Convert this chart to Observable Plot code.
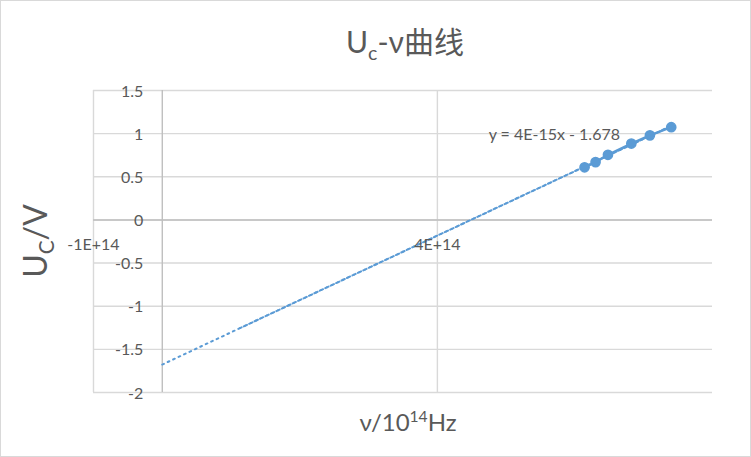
<!DOCTYPE html>
<html>
<head>
<meta charset="utf-8">
<script src="https://cdn.jsdelivr.net/npm/d3@7"></script>
<script src="https://cdn.jsdelivr.net/npm/@observablehq/plot@0.6"></script>
<style>
  html, body { margin: 0; padding: 0; background: #fff; }
  #wrap { position: relative; width: 751px; height: 457px; overflow: hidden; }
  #wrap svg { display: block; }
  #border { position: absolute; left: 0; top: 0; width: 749px; height: 455px; border: 1px solid #d9d9d9; pointer-events: none; }
</style>
</head>
<body>
<div id="wrap"><div id="border"></div></div>
<script>
// ---- data ----
const nu = [6.14e14, 6.30e14, 6.48e14, 6.82e14, 7.09e14, 7.40e14];   // frequency (Hz)
const uc = [0.61, 0.67, 0.755, 0.885, 0.98, 1.075];                   // stopping voltage (V)
const yTicks = [-2, -1.5, -1, -0.5, 0, 0.5, 1, 1.5];
const xTicks = [-1e14, 4e14];
const xDomain = [-1e14, 8e14];
const yDomain = [-2, 1.5];
const trendStarts = [0, 1.09e14];        // trendline backward-forecast starts (two overlapping trendlines)
const eqLabel = "y = 4E-15x - 1.678";
const eqAt = [5.70e14, 0.99];
const titleParts = ["U", "c", "-ν曲线"];
const yTitleParts = ["U", "C", "/V"];
const xTitleParts = ["ν/10", "14", "Hz"];

// ---- build ----
const points = nu.map((x, i) => ({x, y: uc[i]}));
const mx = d3.mean(nu), my = d3.mean(uc);
const slope = d3.sum(points, p => (p.x - mx) * (p.y - my)) / d3.sum(points, p => (p.x - mx) ** 2);
const intercept = my - slope * mx;
const xMax = d3.max(nu);
const trend = (x0) => [x0, xMax].map(x => ({x, y: intercept + slope * x}));
const fmtX = v => v === 0 ? "0" : v.toExponential(0).toUpperCase();

const blue = "#5b9bd5", grid = "#d9d9d9", axisC = "#bfbfbf", txt = "#595959";
const font = "Lato, 'Noto Sans CJK SC', sans-serif";

const svg = Plot.plot({
  width: 751, height: 457,
  marginLeft: 93, marginRight: 39, marginTop: 90, marginBottom: 65,
  x: {domain: xDomain, axis: null},
  y: {domain: yDomain, axis: null},
  style: {fontFamily: font, fontSize: "16px", color: txt, background: "transparent"},
  marks: [
    Plot.ruleY(yTicks, {stroke: grid, strokeWidth: 1.4}),
    Plot.ruleX(xTicks, {stroke: grid, strokeWidth: 1.4}),
    Plot.ruleY([0], {stroke: axisC, strokeWidth: 1.4}),
    Plot.ruleX([0], {stroke: axisC, strokeWidth: 1.4}),
    Plot.line(trend(trendStarts[0]), {x: "x", y: "y", stroke: blue, strokeWidth: 2, strokeDasharray: "1.8,4.2"}),
    Plot.line(trend(trendStarts[1]), {x: "x", y: "y", stroke: blue, strokeWidth: 2, strokeDasharray: "1.8,4.2", strokeDashoffset: 3}),
    Plot.line(points, {x: "x", y: "y", stroke: blue, strokeWidth: 2.5}),
    Plot.dot(points, {x: "x", y: "y", r: 4.6, fill: blue, stroke: blue}),
    Plot.text(yTicks, {x: () => 0, y: d => d, text: d => String(d), dx: -19, dy: 1, textAnchor: "end", fill: txt, fontSize: 16}),
    Plot.text(xTicks, {x: d => d, y: () => 0, text: fmtX, dy: 25, fill: txt, fontSize: 16}),
    Plot.text([eqLabel], {x: () => eqAt[0], y: () => eqAt[1], text: d => d, fill: txt, fontSize: 16})
  ]
});

const s = d3.select(svg);
function addText(parts, x, y, size, mode, rotate) {
  const t = s.append("text")
    .attr("text-anchor", "middle")
    .attr("fill", txt)
    .style("font-family", font)
    .style("font-size", size + "px")
    .attr("transform", `translate(${x},${y})` + (rotate ? " rotate(-90)" : ""));
  const shift = mode === "sub" ? size * 0.22 : -size * 0.38;
  t.append("tspan").text(parts[0]);
  t.append("tspan").text(parts[1]).attr("dy", shift).style("font-size", (size * 0.65) + "px");
  t.append("tspan").text(parts[2]).attr("dy", -shift);
}
addText(titleParts, 405, 53, 30, "sub", false);
addText(yTitleParts, 47, 241, 32, "sub", true);
addText(xTitleParts, 408, 431, 24, "sup", false);

document.getElementById("wrap").appendChild(svg);
</script>
</body>
</html>
